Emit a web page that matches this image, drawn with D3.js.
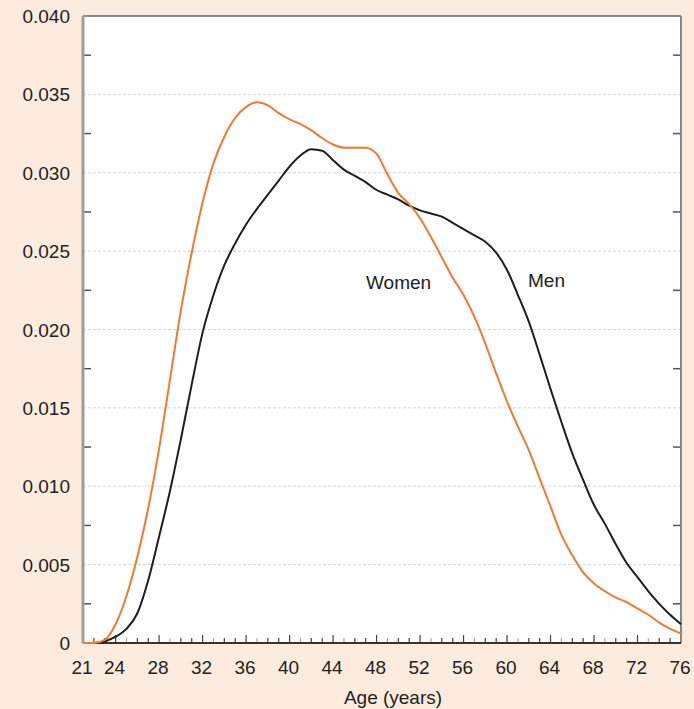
<!DOCTYPE html>
<html>
<head>
<meta charset="utf-8">
<script src="https://cdnjs.cloudflare.com/ajax/libs/d3/7.8.5/d3.min.js"></script>
<style>
  body { margin: 0; background: #fdebdd; }
  svg { display: block; }
  text { font-family: "Liberation Sans", Arial, Helvetica, sans-serif; fill: #222; }
</style>
</head>
<body>
<div id="chart"></div>
<script>
/* age distribution chart */

// Data
var ages = [21, 22, 23, 24, 25, 26, 27, 28, 29, 30,
            31, 32, 33, 34, 35, 36, 37, 38, 39, 40,
            41, 42, 43, 44, 45, 46, 47, 48, 49, 50,
            51, 52, 53, 54, 55, 56, 57, 58, 59, 60,
            61, 62, 63, 64, 65, 66, 67, 68, 69, 70,
            71, 72, 73, 74, 75, 76];

var women = [0, 0, 0.0002, 0.0012, 0.0030, 0.0055, 0.0086, 0.0124, 0.0168, 0.0212,
             0.0249, 0.0281, 0.0306, 0.0323, 0.0335, 0.0342, 0.0345, 0.0343, 0.0338, 0.0334,
             0.0331, 0.0327, 0.0322, 0.0318, 0.0316, 0.0316, 0.0316, 0.0312, 0.0299, 0.0287,
             0.0280, 0.0271, 0.0259, 0.0246, 0.0233, 0.0222, 0.0208, 0.0191, 0.0172, 0.0154,
             0.0138, 0.0123, 0.0105, 0.0087, 0.0069, 0.0056, 0.0045, 0.0038, 0.0033, 0.0029,
             0.0026, 0.0022, 0.0018, 0.0013, 0.0009, 0.0006];

var men = [0, 0, 0.0001, 0.0004, 0.0009, 0.0019, 0.0040, 0.0068, 0.0097, 0.0130,
           0.0165, 0.0198, 0.0222, 0.0241, 0.0255, 0.0267, 0.0277, 0.0286, 0.0295, 0.0304,
           0.0311, 0.0315, 0.0314, 0.0308, 0.0302, 0.0298, 0.0294, 0.0289, 0.0286, 0.0283,
           0.0279, 0.0276, 0.0274, 0.0272, 0.0268, 0.0264, 0.0260, 0.0256, 0.0249, 0.0238,
           0.0222, 0.0205, 0.0184, 0.0162, 0.0141, 0.0121, 0.0104, 0.0088, 0.0076, 0.0063,
           0.0051, 0.0042, 0.0033, 0.0025, 0.0018, 0.0012];

var xTickValues = [21, 24, 28, 32, 36, 40, 44, 48, 52, 56, 60, 64, 68, 72, 76];
var yTickValues = [0, 0.005, 0.010, 0.015, 0.020, 0.025, 0.030, 0.035, 0.040];
var yTickLabels = ["0", "0.005", "0.010", "0.015", "0.020", "0.025", "0.030", "0.035", "0.040"];

// Canvas
var width = 694, height = 709;
var plotLeft = 83, plotRight = 681, plotTop = 16, plotBottom = 643;

var svg = d3.select("#chart").append("svg")
            .attr("width", width)
            .attr("height", height);

var x = d3.scaleLinear().domain([21, 76]).range([plotLeft, plotRight]);
var y = d3.scaleLinear().domain([0, 0.04]).range([plotBottom, plotTop]);

// White plot area
svg.append("rect")
   .attr("x", plotLeft).attr("y", plotTop)
   .attr("width", plotRight - plotLeft).attr("height", plotBottom - plotTop)
   .attr("fill", "#fff");

// Dashed gridlines
svg.selectAll("line.grid")
   .data(yTickValues.slice(1, -1))
   .enter()
   .append("line")
   .attr("class", "grid")
   .attr("x1", plotLeft).attr("x2", plotRight)
   .attr("y1", function(d) { return y(d); })
   .attr("y2", function(d) { return y(d); })
   .attr("stroke", "#d4d4d4")
   .attr("stroke-width", 1)
   .attr("stroke-dasharray", "3,2");

// Minor y ticks (left and right, pointing inward)
var yMinor = d3.range(1, 16, 2).map(function(i) { return i * 0.0025; });
svg.selectAll("line.yminorL")
   .data(yMinor)
   .enter()
   .append("line")
   .attr("x1", plotLeft).attr("x2", plotLeft + 8)
   .attr("y1", function(d) { return y(d); })
   .attr("y2", function(d) { return y(d); })
   .attr("stroke", "#555").attr("stroke-width", 1.5);
svg.selectAll("line.yminorR")
   .data(yMinor)
   .enter()
   .append("line")
   .attr("x1", plotRight - 8).attr("x2", plotRight)
   .attr("y1", function(d) { return y(d); })
   .attr("y2", function(d) { return y(d); })
   .attr("stroke", "#555").attr("stroke-width", 1.5);

// X ticks every year, pointing up
svg.selectAll("line.xtick")
   .data(d3.range(22, 76))
   .enter()
   .append("line")
   .attr("x1", function(d) { return x(d); })
   .attr("x2", function(d) { return x(d); })
   .attr("y1", plotBottom)
   .attr("y2", function(d) { return xTickValues.indexOf(d) >= 0 ? plotBottom - 8 : plotBottom - 5; })
   .attr("stroke", function(d) { return d % 4 == 1 ? "#aaa" : "#444"; })
   .attr("stroke-width", 1.2);

// Frame
svg.append("line").attr("x1", plotLeft).attr("x2", plotRight).attr("y1", plotTop).attr("y2", plotTop)
   .attr("stroke", "#666").attr("stroke-width", 1.5);
svg.append("line").attr("x1", plotRight).attr("x2", plotRight).attr("y1", plotTop).attr("y2", plotBottom)
   .attr("stroke", "#888").attr("stroke-width", 2);
svg.append("line").attr("x1", plotLeft).attr("x2", plotLeft).attr("y1", plotTop).attr("y2", plotBottom)
   .attr("stroke", "#a39b95").attr("stroke-width", 3);
svg.append("line").attr("x1", plotLeft).attr("x2", plotRight).attr("y1", plotBottom).attr("y2", plotBottom)
   .attr("stroke", "#333").attr("stroke-width", 2);

// Lines
var line = d3.line()
             .x(function(d) { return x(d[0]); })
             .y(function(d) { return y(d[1]); })
             .curve(d3.curveMonotoneX);

svg.append("path")
   .datum(d3.zip(ages, men))
   .attr("d", line)
   .attr("fill", "none")
   .attr("stroke", "#1e1e1e")
   .attr("stroke-width", 2);

svg.append("path")
   .datum(d3.zip(ages, women))
   .attr("d", line)
   .attr("fill", "none")
   .attr("stroke", "#f07a32")
   .attr("stroke-width", 2);

// Y labels
svg.selectAll("text.ylab")
   .data(yTickValues)
   .enter()
   .append("text")
   .attr("class", "ylab")
   .attr("x", 70)
   .attr("y", function(d) { return y(d) + 7; })
   .attr("text-anchor", "end")
   .style("font-size", "19px")
   .text(function(d, i) { return yTickLabels[i]; });

// X labels
svg.selectAll("text.xlab")
   .data(xTickValues)
   .enter()
   .append("text")
   .attr("class", "xlab")
   .attr("x", function(d) { return x(d) - 1; })
   .attr("y", 674)
   .attr("text-anchor", "middle")
   .style("font-size", "19px")
   .text(function(d) { return d; });

svg.append("text")
   .attr("x", 393).attr("y", 704)
   .attr("text-anchor", "middle")
   .style("font-size", "19px")
   .text("Age (years)");

// Series labels
svg.append("text").attr("x", 366).attr("y", 289)
   .style("font-size", "19px").text("Women");
svg.append("text").attr("x", 528).attr("y", 287)
   .style("font-size", "19px").text("Men");
</script>
</body>
</html>
